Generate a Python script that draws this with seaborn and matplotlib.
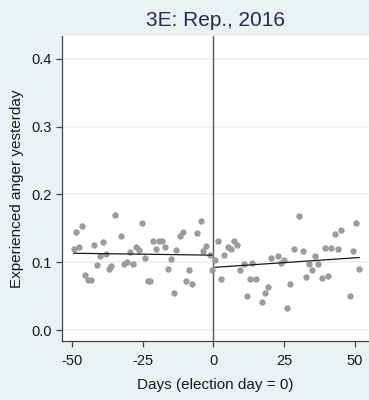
import matplotlib
matplotlib.use("Agg")
import matplotlib.pyplot as plt
import seaborn as sns
import pandas as pd

# Share of respondents reporting anger, by day relative to election day
days_pre = [-49.4, -48.6, -47.4, -46.5, -45.4, -44.2, -43.4, -42.2, -41.2, -40.2,
            -39.1, -38.1, -36.9, -36.0, -34.8, -32.8, -31.7, -30.6, -29.6, -28.5,
            -27.4, -26.4, -25.3, -24.3, -23.2, -22.4, -21.3, -20.3, -19.2, -18.3,
            -17.1, -16.1, -15.1, -14.0, -13.0, -11.9, -10.8, -9.8, -8.7, -7.6,
            -5.6, -4.5, -3.5, -2.5, -1.3, -0.4]
anger_pre = [0.120, 0.145, 0.123, 0.153, 0.081, 0.074, 0.074, 0.125, 0.096, 0.109,
             0.130, 0.112, 0.090, 0.094, 0.169, 0.138, 0.097, 0.101, 0.115, 0.097,
             0.122, 0.118, 0.158, 0.107, 0.072, 0.072, 0.131, 0.119, 0.131, 0.131,
             0.123, 0.090, 0.105, 0.055, 0.118, 0.138, 0.144, 0.072, 0.088, 0.068,
             0.143, 0.161, 0.116, 0.124, 0.110, 0.089]

days_post = [0.6, 1.8, 2.8, 3.9, 5.2, 6.3, 7.3, 8.3, 9.4, 10.8,
             11.8, 12.9, 13.8, 15.0, 17.3, 18.4, 19.5, 20.4, 22.9, 24.0,
             24.9, 26.2, 27.2, 28.5, 30.4, 31.6, 32.9, 34.0, 35.0, 36.1,
             37.2, 38.5, 39.5, 40.6, 41.6, 43.0, 44.0, 45.1, 48.5, 49.5,
             50.5, 51.7]
anger_post = [0.104, 0.132, 0.075, 0.111, 0.122, 0.120, 0.132, 0.126, 0.088, 0.098,
              0.050, 0.075, 0.099, 0.075, 0.041, 0.054, 0.064, 0.107, 0.109, 0.099,
              0.104, 0.032, 0.068, 0.120, 0.168, 0.117, 0.079, 0.098, 0.088, 0.109,
              0.097, 0.077, 0.121, 0.080, 0.121, 0.142, 0.119, 0.147, 0.050, 0.117,
              0.158, 0.090]

x_ticks = [-50, -25, 0, 25, 50]
y_ticks = [0.0, 0.1, 0.2, 0.3, 0.4]
title = "3E: Rep., 2016"
x_label = "Days (election day = 0)"
y_label = "Experienced anger yesterday"

pre = pd.DataFrame({"day": days_pre, "anger": anger_pre})
post = pd.DataFrame({"day": days_post, "anger": anger_post})

sns.set_theme(style="ticks")
plt.rcParams["font.family"] = ["Liberation Sans", "DejaVu Sans"]
plt.rcParams["axes.unicode_minus"] = False

bg = "#EAF2F3"
fig = plt.figure(figsize=(3.69, 4.0), dpi=100, facecolor=bg)
ax = fig.add_axes([0.168, 0.1475, 0.832, 0.7635])
ax.set_facecolor("white")

# light horizontal grid
for yv in y_ticks:
    ax.axhline(yv, color=bg, lw=1.3, zorder=0)

# election-day marker
ax.axvline(0, color="#555555", lw=1.0, zorder=1)

for df in (pre, post):
    sns.scatterplot(data=df, x="day", y="anger", ax=ax, color="#9C9C9C",
                    s=21, linewidth=0, zorder=2)
    sns.regplot(data=df, x="day", y="anger", ax=ax, scatter=False, ci=None,
                truncate=True, line_kws={"color": "#1a1a1a", "lw": 0.9, "zorder": 3})

ax.set_xlim(-53.5, 55.1)
ax.set_ylim(-0.016, 0.434)
ax.set_xticks(x_ticks)
ax.set_xticklabels([str(t) for t in x_ticks])
ax.set_yticks(y_ticks)
ax.set_yticklabels([f"{t:.1f}" for t in y_ticks])

for side in ("top", "right"):
    ax.spines[side].set_visible(False)
for side in ("left", "bottom"):
    ax.spines[side].set_color("#444444")
    ax.spines[side].set_linewidth(0.9)
ax.tick_params(axis="both", direction="out", length=4.5, width=0.9,
               color="#444444", labelsize=10.5, labelcolor="#1a1a1a", pad=3)
ax.tick_params(axis="x", pad=5)

ax.set_xlabel(x_label, fontsize=11, color="#1a1a1a", labelpad=7)
ax.set_ylabel(y_label, fontsize=11, color="#1a1a1a", labelpad=5)
ax.set_title(title, fontsize=15, color="#1F2E57", pad=7)

fig.savefig("out.png", dpi=100, facecolor=bg)
